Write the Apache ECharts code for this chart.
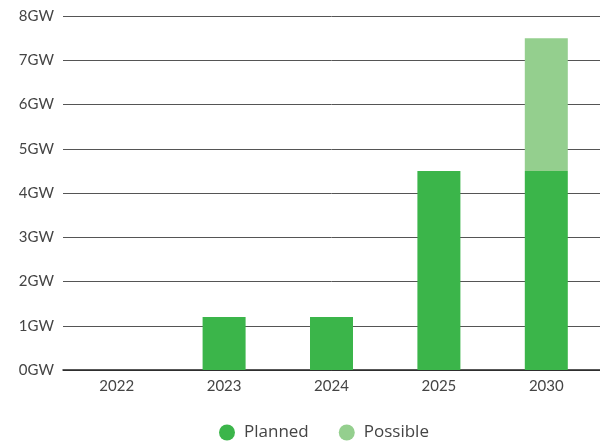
<!DOCTYPE html>
<html><head><meta charset="utf-8">
<script src="https://cdn.jsdelivr.net/npm/echarts@6/dist/echarts.min.js"></script>
<style>html,body{margin:0;padding:0;background:#fff}#c{width:600px;height:444px}</style>
</head><body><div id="c"></div>
<script>
const categories = ['2022','2023','2024','2025','2030'];
const planned = [0, 1.2, 1.2, 4.5, 4.5];
const possible = [0, 0, 0, 0, 3.0];
const seriesNames = ['Planned','Possible'];
const chart = echarts.init(document.getElementById('c'));
const font = 'Lato';
chart.setOption({
  animation: false,
  grid: {left: 63, right: 0, top: 16, bottom: 74},
  legend: {
    data: seriesNames, top: 424, left: 219, icon: 'circle', padding: 0,
    itemWidth: 16, itemHeight: 16, itemGap: 30,
    textStyle: {fontFamily: 'Open Sans', fontSize: 17, lineHeight: 17, color: '#444', padding: [0,0,0,4]}
  },
  xAxis: {
    type: 'category', data: categories,
    axisLine: {show: true, lineStyle: {color: '#222', width: 1.5}},
    axisTick: {show: false},
    axisLabel: {fontFamily: font, fontSize: 15, color: '#444', margin: 9}
  },
  yAxis: {
    type: 'value', min: 0, max: 8, interval: 1,
    axisLabel: {formatter: '{value}GW', fontFamily: font, fontSize: 15, color: '#444', margin: 9},
    splitLine: {lineStyle: {color: '#555', width: 1}},
    axisLine: {show: false}, axisTick: {show: false}
  },
  series: [
    {name: seriesNames[0], type: 'bar', stack: 't', data: planned, barWidth: 43, itemStyle: {color: '#3bb54a'}},
    {name: seriesNames[1], type: 'bar', stack: 't', data: possible, barWidth: 43, itemStyle: {color: '#94cf8e'}}
  ]
});
</script></body></html>
